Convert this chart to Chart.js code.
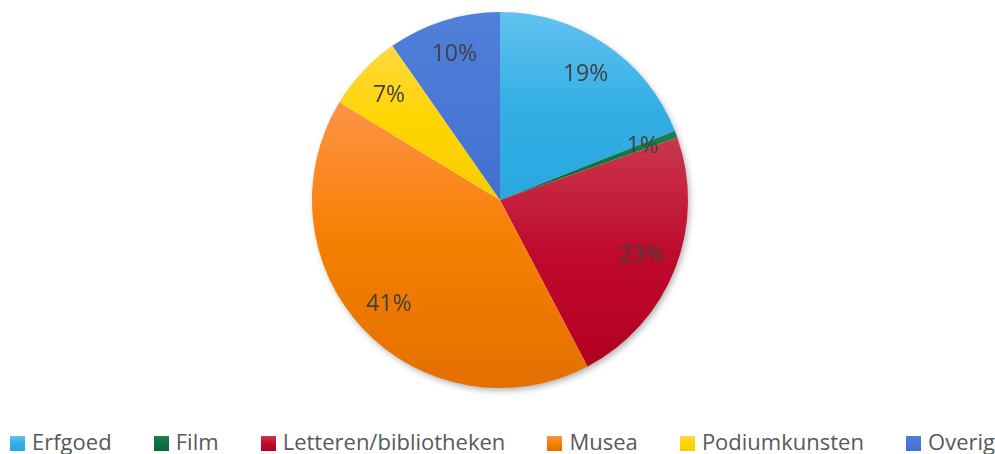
<!DOCTYPE html>
<html>
<head>
<meta charset="utf-8">
<script src="https://cdn.jsdelivr.net/npm/chart.js@4"></script>
<style>
  html, body { margin: 0; padding: 0; background: #fff; }
  #wrap { position: relative; width: 995px; height: 454px; overflow: hidden; }
  #chartBox { position: absolute; left: 0; top: 0; width: 995px; height: 410px; }
  #legend {
    position: absolute; left: 10px; right: 0px; top: 429px; height: 24px;
    display: flex; justify-content: space-between; align-items: center;
    font-family: "Open Sans", sans-serif; font-size: 22px; color: #595959;
    white-space: nowrap;
  }
  #legend span.box { display: inline-block; width: 15px; height: 15px; margin-right: 7px; vertical-align: -1px; }
</style>
</head>
<body>
<div id="wrap">
  <div id="chartBox"><canvas id="pieChart"></canvas></div>
  <div id="legend"></div>
</div>
<script>
const labels = ['Erfgoed', 'Film', 'Letteren/bibliotheken', 'Musea', 'Podiumkunsten', 'Overig'];
const shares = [19.0, 0.6, 22.7, 41.4, 6.6, 9.7];

// basiskleur + lichte bovenkant + donkere onderkant per segment
const baseColors = ['#34afe6', '#0e7040', '#bf0a2e', '#f57f00', '#ffd500', '#4a78d6'];
const lightColors = ['#62c2ef', '#1f8050', '#c9384c', '#ff9347', '#ffd83e', '#5080d8'];
const darkColors = ['#28a7de', '#0a6638', '#b4001f', '#e37000', '#f7cc00', '#4270cc'];

const total = shares.reduce((a, b) => a + b, 0);

// schaduw onder de taart
const shadowPlugin = {
  id: 'pieShadow',
  beforeDatasetsDraw(chart) {
    const arc = chart.getDatasetMeta(0).data[0];
    if (!arc) return;
    const ctx = chart.ctx;
    ctx.save();
    ctx.shadowColor = 'rgba(0,0,0,0.35)';
    ctx.shadowBlur = 7;
    ctx.shadowOffsetX = 2;
    ctx.shadowOffsetY = 3;
    ctx.fillStyle = '#ffffff';
    ctx.beginPath();
    ctx.arc(arc.x, arc.y, arc.outerRadius - 1, 0, Math.PI * 2);
    ctx.fill();
    ctx.restore();
  }
};

// verloop per segment, van boven naar onder
const gradientPlugin = {
  id: 'sliceGradient',
  beforeDatasetsDraw(chart) {
    const ctx = chart.ctx;
    chart.getDatasetMeta(0).data.forEach((arc, i) => {
      let minY = arc.y, maxY = arc.y;
      for (let k = 0; k <= 60; k++) {
        const a = arc.startAngle + (arc.endAngle - arc.startAngle) * k / 60;
        const y = arc.y + Math.sin(a) * arc.outerRadius;
        minY = Math.min(minY, y);
        maxY = Math.max(maxY, y);
      }
      const g = ctx.createLinearGradient(0, minY, 0, maxY);
      g.addColorStop(0, lightColors[i]);
      g.addColorStop(0.5, baseColors[i]);
      g.addColorStop(1, darkColors[i]);
      arc.options.backgroundColor = g;
    });
  }
};

// percentages in de segmenten
const pctLabels = {
  id: 'pctLabels',
  afterDatasetsDraw(chart) {
    const ctx = chart.ctx;
    ctx.save();
    ctx.font = '23px "Open Sans", sans-serif';
    ctx.fillStyle = '#404040';
    ctx.textAlign = 'center';
    ctx.textBaseline = 'middle';
    chart.getDatasetMeta(0).data.forEach((arc, i) => {
      const mid = (arc.startAngle + arc.endAngle) / 2;
      const r = arc.outerRadius * 0.81;
      const txt = Math.round(shares[i] / total * 100) + '%';
      ctx.fillText(txt, arc.x + Math.cos(mid) * r, arc.y + Math.sin(mid) * r);
    });
    ctx.restore();
  }
};

const chart = new Chart(document.getElementById('pieChart').getContext('2d'), {
  type: 'pie',
  data: {
    labels: labels,
    datasets: [{
      data: shares,
      backgroundColor: baseColors,
      borderWidth: 0,
      hoverOffset: 0
    }]
  },
  options: {
    responsive: true,
    maintainAspectRatio: false,
    animation: false,
    layout: { padding: { top: 12, bottom: 22, left: 5, right: 0 } },
    plugins: {
      legend: { display: false },
      tooltip: { enabled: false }
    }
  },
  plugins: [shadowPlugin, gradientPlugin, pctLabels]
});

// legenda als html
const legendEl = document.getElementById('legend');
labels.forEach((name, i) => {
  const item = document.createElement('div');
  const box = document.createElement('span');
  box.className = 'box';
  box.style.background = 'linear-gradient(' + lightColors[i] + ',' + baseColors[i] + ' 50%,' + darkColors[i] + ')';
  item.appendChild(box);
  item.appendChild(document.createTextNode(name));
  legendEl.appendChild(item);
});
</script>
</body>
</html>
